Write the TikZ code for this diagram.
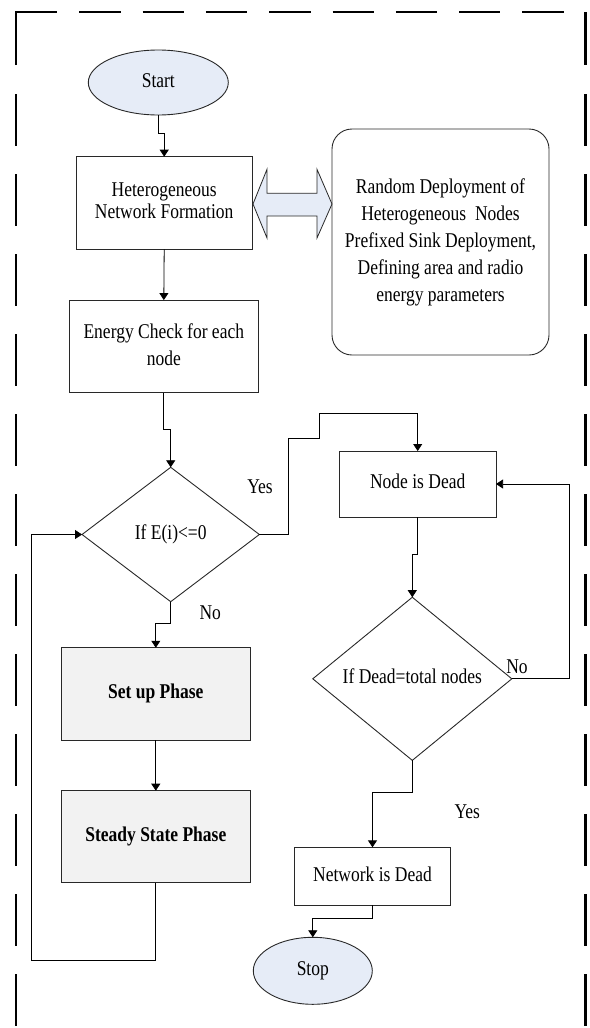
\documentclass[tikz,border=0pt]{standalone}
\usepackage{fontspec}
\setmainfont{Liberation Serif}
\usepackage{graphicx}
\usetikzlibrary{arrows.meta,shapes.geometric}

\definecolor{termfill}{RGB}{230,236,247}
\definecolor{phasefill}{RGB}{242,242,242}
\definecolor{edgegray}{RGB}{40,40,40}

% text set slightly taller than wide, with a given line spacing
\newcommand\vtxt[2]{\scalebox{1}[1.2]{\fontsize{17.5}{#1}\selectfont\begin{tabular}{@{}c@{}}#2\end{tabular}}}

\tikzset{
  shapeline/.style={draw=edgegray, line width=0.9pt, inner sep=0pt, outer sep=0pt},
  procbox/.style={shapeline, rectangle},
  phasebox/.style={shapeline, rectangle, fill=phasefill},
  termnode/.style={shapeline, ellipse, fill=termfill},
  decision/.style={shapeline, diamond},
  infobox/.style={shapeline, rectangle, rounded corners=20pt},
  conn/.style={draw=black, line width=0.8pt, -{Triangle[length=7pt,width=9pt]}},
  lbl/.style={inner sep=0pt},
  frameline/.style={draw=black, line width=2.7pt, line cap=butt},
  bigarrow/.style={draw=edgegray, line width=0.8pt, fill=termfill, line join=miter}
}

\begin{document}
\begin{tikzpicture}[x=1pt, y=-1pt]
\useasboundingbox (0,0) rectangle (589,1028);

% dashed frame
\draw[frameline, line join=miter] (16,65) -- (16,12) -- (57.3,12);
\foreach \n in {1,...,8}
  \draw[frameline] ({16+63.3*\n},12) -- ({57.3+63.3*\n},12);
\draw[frameline] (585.5,12) -- (585.5,65);
\foreach \y in {94,174,...,974} {
  \draw[frameline] (16,\y) -- (16,\y+52);
  \draw[frameline] (585.5,\y) -- (585.5,\y+52);
}

% nodes
\node[termnode, minimum width=140, minimum height=65] (start) at (158.3,82.5) {\vtxt{20}{Start}};
\node[procbox, minimum width=176.3, minimum height=92.6] (hnf) at (164.2,203) {\vtxt{18.6}{Heterogeneous\\Network Formation}};
\node[infobox, minimum width=217, minimum height=226] (deploy) at (440.5,242) {\vtxt{22.5}{Random Deployment of\\Heterogeneous\ \ Nodes\\Prefixed Sink Deployment,\\Defining area and radio\\energy parameters}};
\node[procbox, minimum width=189, minimum height=92.7] (energy) at (163.8,346.4) {\vtxt{22.2}{Energy Check for each\\node}};
\node[decision, minimum width=177.3, minimum height=134.4] (d1) at (170.7,534.5) {\vtxt{20}{If E(i)<=0}};
\node[procbox, minimum width=156.7, minimum height=66] (nid) at (417.7,484) {\vtxt{20}{Node is Dead}};
\node[decision, minimum width=199, minimum height=151] (d2) at (412.3,678.8) {\vtxt{20}{If Dead=total nodes}};
\node[phasebox, minimum width=188.3, minimum height=92.3] (setup) at (155.8,693.9) {\vtxt{20}{\bfseries Set up Phase}};
\node[phasebox, minimum width=188.3, minimum height=92] (steady) at (155.8,836.7) {\vtxt{20}{\bfseries Steady State Phase}};
\node[procbox, minimum width=156.4, minimum height=57.7] (net) at (372.5,876.2) {\vtxt{20}{Network is Dead}};
\node[termnode, minimum width=119, minimum height=67] (stop) at (312.8,970.8) {\vtxt{20}{Stop}};

% branch labels
\node[lbl] (yes1) at (260,489) {\vtxt{20}{Yes}};
\node[lbl] (no1) at (210.3,615) {\vtxt{20}{No}};
\node[lbl] (no2) at (517,668.5) {\vtxt{20}{No}};
\node[lbl] (yes2) at (467.3,813.3) {\vtxt{20}{Yes}};

% two-headed block arrow between the formation box and the deployment box
\draw[bigarrow] (253,204) -- (267,169.3) -- (267,193.3) -- (317,193.3) -- (317,169.3)
  -- (332,204) -- (317,238) -- (317,216) -- (267,216) -- (267,238) -- cycle;

% connectors
\draw[conn] (start.south) -- ++(0,18.5) -| (hnf.north);
\draw[conn] (hnf.south) -- (energy.north);
\draw[conn] (energy.south) -- ++(0,36.6) -| (d1.north);
\draw[conn] (d1.east) -| (288.7,438.3) -| (319.3,413.3) -| (nid.north);
\draw[conn] (d1.south) -- ++(0,21.6) -| (setup.north);
\draw[conn] (setup.south) -- (steady.north);
\draw[conn] (steady.south) |- (31.7,960.6) |- (d1.west);
\draw[conn] (nid.south) -- ++(0,37.3) -| (d2.north);
\draw[conn] (d2.east) -- (569,678.8) |- (nid.east);
\draw[conn] (d2.south) -- ++(0,31.7) -| (net.north);
\draw[conn] (net.south) -- ++(0,13.3) -| (stop.north);
\end{tikzpicture}
\end{document}
